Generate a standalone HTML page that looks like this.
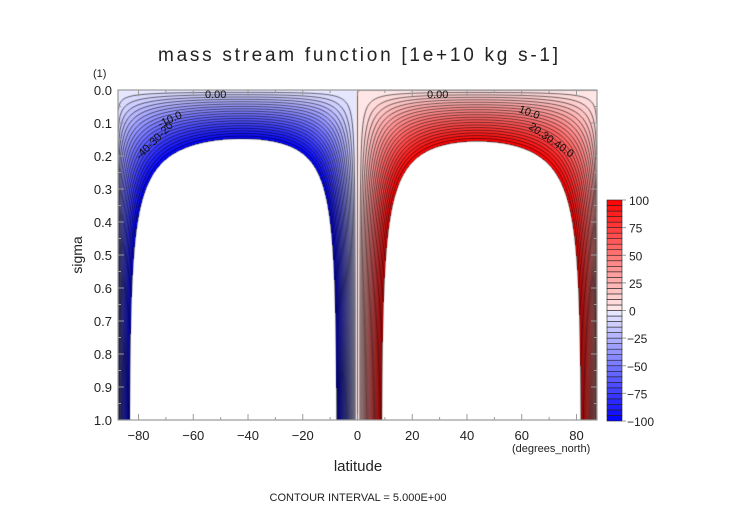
<!DOCTYPE html>
<html><head><meta charset="utf-8"><style>
body{margin:0;background:#fff;width:752px;height:532px;overflow:hidden;position:relative;font-family:"Liberation Sans",sans-serif}
#fld{position:absolute;left:118px;top:90px}
#ov{position:absolute;left:0;top:0}
</style></head><body>
<canvas id="fld" width="479" height="330"></canvas>
<svg id="ov" width="752" height="532">
<text x="358" y="61" font-size="19" text-anchor="middle" textLength="400" fill="#222">mass stream function [1e+10 kg s-1]</text>
<text x="93" y="77" font-size="11" fill="#222">(1)</text>
<text x="0" y="0" font-size="14" fill="#222" text-anchor="middle" transform="translate(82,255) rotate(-90)">sigma</text>
<text x="358" y="471" font-size="15" fill="#222" text-anchor="middle">latitude</text>
<text x="512" y="452" font-size="11" fill="#222">(degrees_north)</text>
<text x="358" y="501" font-size="11" fill="#222" text-anchor="middle">CONTOUR INTERVAL = 5.000E+00</text>
<g id="axes"></g>
<g id="cbar"></g>
<g id="labels" font-size="11" fill="#111">
<text x="205" y="98">0.00</text>
<text x="427" y="98">0.00</text>
<text x="0" y="0" transform="translate(160,128) rotate(-25)">-10.0</text>
<text x="0" y="0" transform="translate(140,160) rotate(-45)">-40-30-20</text>
<text x="0" y="0" transform="translate(518,112) rotate(20)">10.0</text>
<text x="0" y="0" transform="translate(528,128) rotate(35)">20.30.40.0</text>
</g>
</svg>
<script>
// data
const xTicks=[-80,-60,-40,-20,0,20,40,60,80];
const yTicks=[0,0.1,0.2,0.3,0.4,0.5,0.6,0.7,0.8,0.9,1.0];
const cbarTicks=[100,75,50,25,0,-25,-50,-75,-100];
const contourInterval=[5];
const cellPeak=[-345,345];          // SH, NH cell strength
const cellCenter=[40,40];           // |lat| of cell centre
const innerWidth=[19,24];
const innerPow=[1.0,0.95];
const outerWidth=[33,30];
const outerPow=[0.48,0.6];
const sigmaScale=[0.4];
const latRange=[-87.5,87.5];

const X0=118,X1=597,Y0=90,Y1=420;
const xs=l=>X0+(l-latRange[0])/(latRange[1]-latRange[0])*(X1-X0);
const ys=s=>Y0+s*(Y1-Y0);
const NS="http://www.w3.org/2000/svg";
function el(t,a,p){const e=document.createElementNS(NS,t);for(const k in a)e.setAttribute(k,a[k]);p.appendChild(e);return e;}
const soft=x=>x/Math.sqrt(1+x*x);
function psi(lat,sig){
  const h=lat<0?0:1,au=Math.abs(lat),u=au-0.5;
  if(u<=0||au>=88)return 0;
  const fi=Math.pow(soft(u/innerWidth[h]),innerPow[h]);
  const fo=Math.pow(soft((88-au)/outerWidth[h]),outerPow[h]);
  const d=(au-cellCenter[h])/45;
  const dome=1-0.25*d*d;
  return cellPeak[h]*fi*fo*dome*Math.tanh(sig/sigmaScale[0]);
}
function col(v){
  const ci=contourInterval[0];
  if(Math.abs(v)>100)return[255,255,255];
  let b=Math.floor(v/ci);let mid=(b+0.5)*ci;
  if(v===0)mid=2.5;
  const t=Math.min(1,Math.abs(mid)/100);const c=Math.round(236*(1-t));
  return mid>0?[255,c,c]:[c,c,255];
}
// field
const cv=document.getElementById('fld'),cx=cv.getContext('2d');
const W=cv.width,H=cv.height,img=cx.createImageData(W,H);
for(let j=0;j<H;j++)for(let i=0;i<W;i++){
  const lat=latRange[0]+(i+0.5)/W*(latRange[1]-latRange[0]),s=(j+0.5)/H;
  const c=col(psi(lat,s)),k=(j*W+i)*4;
  img.data[k]=c[0];img.data[k+1]=c[1];img.data[k+2]=c[2];img.data[k+3]=255;
}
cx.putImageData(img,0,0);
// contours (marching squares)
const NX=240,NY=165,G=[];
for(let j=0;j<=NY;j++){G[j]=[];for(let i=0;i<=NX;i++)G[j][i]=psi(latRange[0]+i/NX*(latRange[1]-latRange[0]),j/NY);}
const dx=W/NX,dy=H/NY;
cx.lineWidth=0.7;
for(let L=-100;L<=100;L+=contourInterval[0]){
  const lv=L===0?0.001:L;
  cx.strokeStyle='rgba(0,0,0,0.85)';
  cx.setLineDash(L<0?[2.5,1.5]:[]);
  cx.beginPath();
  for(let j=0;j<NY;j++)for(let i=0;i<NX;i++){
    const a=G[j][i],b=G[j][i+1],c=G[j+1][i+1],d=G[j+1][i];
    const pts=[];
    const e=(p,q,x1,y1,x2,y2)=>{if((p-lv)*(q-lv)<0){const t=(lv-p)/(q-p);pts.push([x1+(x2-x1)*t,y1+(y2-y1)*t]);}};
    e(a,b,i*dx,j*dy,(i+1)*dx,j*dy);e(b,c,(i+1)*dx,j*dy,(i+1)*dx,(j+1)*dy);
    e(d,c,i*dx,(j+1)*dy,(i+1)*dx,(j+1)*dy);e(a,d,i*dx,j*dy,i*dx,(j+1)*dy);
    for(let k=0;k+1<pts.length;k+=2){cx.moveTo(pts[k][0],pts[k][1]);cx.lineTo(pts[k+1][0],pts[k+1][1]);}
  }
  cx.stroke();
}
// axes
const ax=document.getElementById('axes');
el('rect',{x:X0,y:Y0,width:X1-X0,height:Y1-Y0,fill:'none',stroke:'#999','stroke-width':1.2,},ax);
for(let l=-80;l<=80;l+=10){const x=xs(l);const len=l%20===0?6:3;
  el('line',{x1:x,x2:x,y1:Y1,y2:Y1-len,stroke:'#999'},ax);el('line',{x1:x,x2:x,y1:Y0,y2:Y0+len,stroke:'#999'},ax);}
xTicks.forEach(v=>{const t=el('text',{x:xs(v),y:Y1+20,'font-size':13,'text-anchor':'middle',fill:'#222'},ax);t.textContent=(v<0?'\u2212'+(-v):v);
  
  });
for(let k=0;k<=20;k++){const y=ys(k/20),len=k%2===0?6:3;
  el('line',{x1:X0,x2:X0+len,y1:y,y2:y,stroke:'#999'},ax);el('line',{x1:X1,x2:X1-len,y1:y,y2:y,stroke:'#999'},ax);}
yTicks.forEach(v=>{const t=el('text',{x:X0-6,y:ys(v)+5,'font-size':13,'text-anchor':'end',fill:'#222'},ax);t.textContent=v.toFixed(1);
  
  });
// colorbar
const cb=document.getElementById('cbar');const CX=607,CW=15,CT=200,CB=421;
const cy=v=>CT+(100-v)/200*(CB-CT);
for(let v=-100;v<100;v+=contourInterval[0]){const c=col(v+2.5);
  const r=el('rect',{x:CX,y:cy(v+5),width:CW,height:cy(v)-cy(v+5),fill:`rgb(${c})`,stroke:'#222','stroke-width':0.6},cb);
  
  }
cbarTicks.forEach(v=>{el('line',{x1:CX+CW,x2:CX+CW+4,y1:cy(v),y2:cy(v),stroke:'#999'},cb);
  const t=el('text',{x:CX+CW+(v<0?5:7),y:cy(v)+5,'font-size':12,fill:'#222'},cb);t.textContent=v<0?'\u2212'+(-v):v;
  
  });
</script>
</body></html>
